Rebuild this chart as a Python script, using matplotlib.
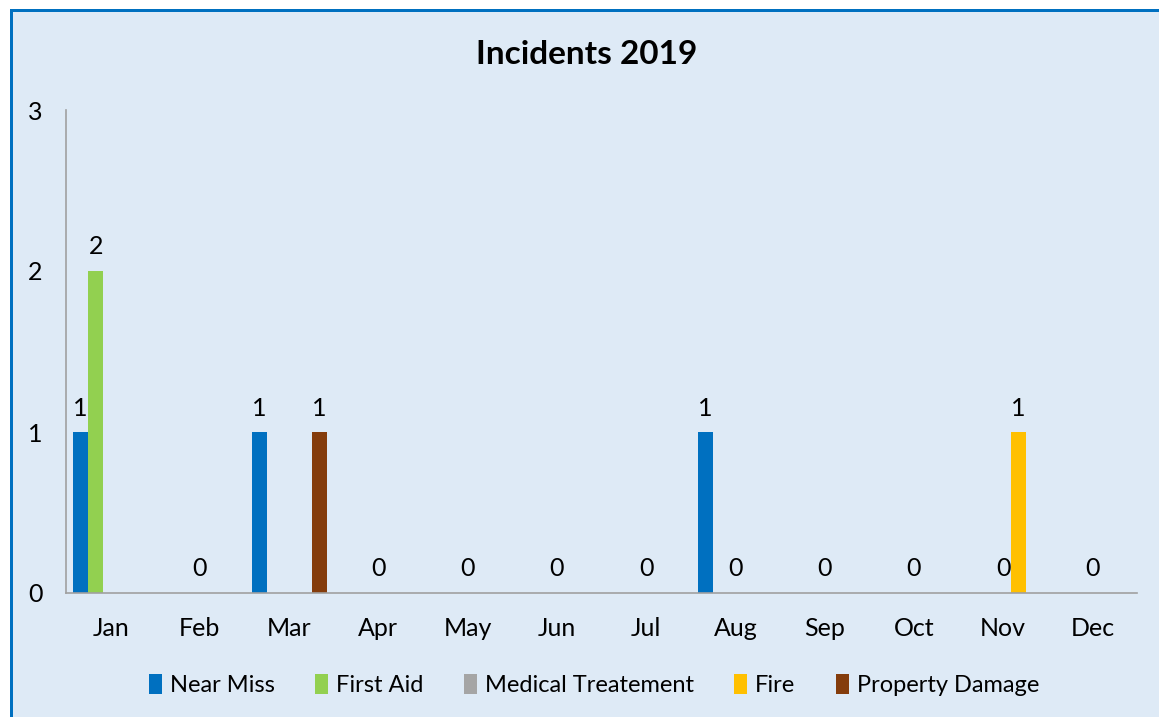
import matplotlib.pyplot as plt
import numpy as np
from matplotlib.patches import Rectangle

plt.rcParams['font.family'] = ['Lato', 'DejaVu Sans']

# Monthly incident counts
months = ['Jan', 'Feb', 'Mar', 'Apr', 'May', 'Jun', 'Jul', 'Aug', 'Sep', 'Oct', 'Nov', 'Dec']
near_miss = [1, 0, 1, 0, 0, 0, 0, 1, 0, 0, 0, 0]
first_aid = [2, 0, 0, 0, 0, 0, 0, 0, 0, 0, 0, 0]
medical = [0, 0, 0, 0, 0, 0, 0, 0, 0, 0, 0, 0]
fire = [0, 0, 0, 0, 0, 0, 0, 0, 0, 0, 1, 0]
property_damage = [0, 0, 1, 0, 0, 0, 0, 0, 0, 0, 0, 0]

# Data labels as shown on the chart (None = no label)
near_miss_labels = ['1', None, '1', None, None, None, None, '1', None, None, None, None]
first_aid_labels = ['2', None, None, None, None, None, None, None, None, None, None, None]
medical_labels = [None, '0', None, '0', '0', '0', '0', '0', '0', '0', '0', '0']
fire_labels = [None, None, None, None, None, None, None, None, None, None, '1', None]
property_labels = [None, None, '1', None, None, None, None, None, None, None, None, None]

series = [
    ('Near Miss', near_miss, near_miss_labels, '#0070C0'),
    ('First Aid', first_aid, first_aid_labels, '#92D050'),
    ('Medical Treatement', medical, medical_labels, '#A5A5A5'),
    ('Fire', fire, fire_labels, '#FFC000'),
    ('Property Damage', property_damage, property_labels, '#843C0C'),
]

bg = '#DEEAF6'
fig = plt.figure(figsize=(11.59, 7.17), dpi=100, facecolor='white')

# chart area background with blue frame (top and left visible)
W, H = 1159, 717
fig.patches.append(Rectangle((10 / W, 0), 1.0, (H - 10) / H, transform=fig.transFigure,
                             facecolor=bg, edgecolor='none', zorder=-10))
fig.patches.append(Rectangle((10 / W, (H - 12) / H), 1.0, 2.5 / H, transform=fig.transFigure,
                             facecolor='#0070C0', edgecolor='none', zorder=-9))
fig.patches.append(Rectangle((10 / W, 0), 2.5 / W, (H - 10) / H, transform=fig.transFigure,
                             facecolor='#0070C0', edgecolor='none', zorder=-9))

ax = fig.add_axes([66 / W, (H - 593) / H, (1137 - 66) / W, (593 - 110) / H])
ax.set_facecolor('none')

x = np.arange(len(months))
width = 0.168
for i, (name, vals, labels, color) in enumerate(series):
    pos = x + (i - 2) * width
    ax.bar(pos, vals, width, color=color, label=name, zorder=2)
    for px, v, lab in zip(pos, vals, labels):
        if lab is not None:
            ax.annotate(lab, (px, v), xytext=(0, 9), textcoords='offset points',
                        ha='center', va='bottom', fontsize=18)

ax.set_xlim(-0.5, len(months) - 0.5)
ax.set_ylim(0, 3)
ax.set_yticks([0, 1, 2, 3])
ax.set_xticks(x)
ax.set_xticklabels(months)
ax.tick_params(axis='both', length=0, labelsize=18)
ax.tick_params(axis='x', pad=17)
ax.tick_params(axis='y', pad=17)
for s in ['top', 'right']:
    ax.spines[s].set_visible(False)
for s in ['left', 'bottom']:
    ax.spines[s].set_color('#A0A0A0')
    ax.spines[s].set_linewidth(1.2)

fig.text(587 / W, 1 - 55 / H, 'Incidents 2019', ha='center', va='center',
         fontsize=24, fontweight='bold')

fig.legend(loc='center', bbox_to_anchor=(594 / W, 1 - 685 / H), ncol=5, frameon=False,
           fontsize=17, handlelength=0.55, handleheight=0.95, handletextpad=0.35,
           columnspacing=1.7)

fig.savefig('out.png', dpi=100, facecolor='white')
